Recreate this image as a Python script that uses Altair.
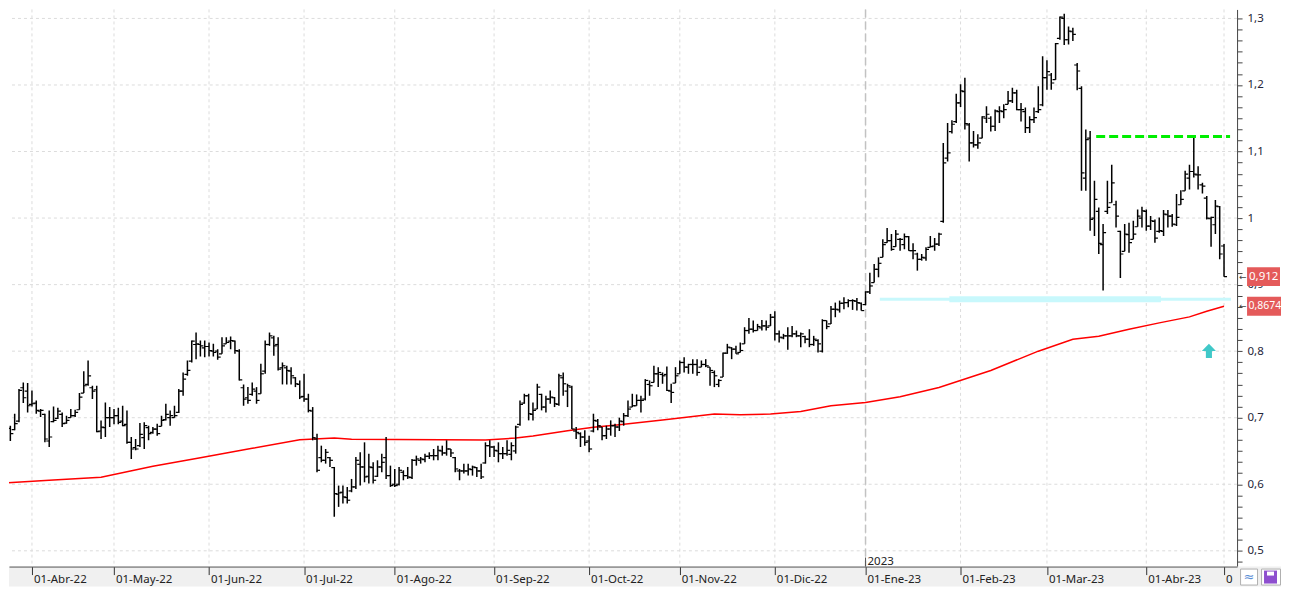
import altair as alt
import pandas as pd

# ---------------- data (daily OHLC, trading-day index 0 = 23-Mar-2022) ----------------
high = [0.719,0.691,0.688,0.706,0.743,0.753,0.752,0.741,0.726,0.713,0.706,0.711,0.717,0.715,0.708,0.703,0.713,0.712,0.737,0.770,
        0.786,0.748,0.748,0.696,0.723,0.716,0.713,0.715,0.718,0.711,0.671,0.668,0.692,0.693,0.688,0.686,0.691,0.703,0.721,0.711,
        0.718,0.743,0.768,0.786,0.816,0.828,0.816,0.816,0.813,0.811,0.803,0.821,0.821,0.822,0.816,0.803,0.750,0.746,0.753,0.746,
        0.781,0.816,0.828,0.823,0.821,0.783,0.778,0.776,0.761,0.756,0.766,0.736,0.716,0.676,0.658,0.653,0.641,0.626,0.598,0.598,
        0.596,0.608,0.641,0.648,0.663,0.646,0.633,0.636,0.646,0.671,0.628,0.623,0.626,0.621,0.626,0.638,0.643,0.641,0.646,0.648,
        0.653,0.658,0.658,0.666,0.653,0.641,0.623,0.631,0.631,0.628,0.626,0.631,0.663,0.666,0.658,0.663,0.656,0.666,0.663,0.688,
        0.726,0.736,0.736,0.723,0.751,0.736,0.733,0.741,0.731,0.766,0.768,0.751,0.748,0.686,0.678,0.681,0.673,0.706,0.698,0.686,
        0.688,0.696,0.691,0.700,0.707,0.726,0.736,0.735,0.733,0.758,0.756,0.778,0.776,0.768,0.777,0.751,0.776,0.786,0.791,0.781,
        0.788,0.788,0.786,0.788,0.776,0.771,0.758,0.798,0.811,0.806,0.808,0.813,0.836,0.850,0.846,0.841,0.847,0.846,0.856,0.860,
        0.831,0.826,0.836,0.838,0.831,0.828,0.823,0.833,0.823,0.818,0.848,0.846,0.868,0.873,0.876,0.881,0.878,0.878,0.880,0.873,
        0.890,0.918,0.931,0.941,0.968,0.985,0.976,0.982,0.970,0.977,0.973,0.962,0.948,0.946,0.956,0.973,0.970,0.978,1.113,1.143,
        1.147,1.187,1.201,1.211,1.143,1.131,1.126,1.153,1.168,1.153,1.163,1.168,1.171,1.191,1.196,1.193,1.173,1.166,1.153,1.166,
        1.198,1.243,1.237,1.218,1.263,1.303,1.307,1.288,1.286,1.233,1.198,1.133,1.131,1.056,1.016,0.991,1.056,1.080,1.026,0.981,
        0.991,0.993,0.996,1.013,1.017,1.013,1.003,0.998,1.001,1.012,1.012,1.006,1.036,1.042,1.071,1.080,1.121,1.078,1.053,1.033,
        1.002,1.027,1.018,0.961]
low = [0.682,0.671,0.665,0.681,0.693,0.722,0.708,0.717,0.706,0.701,0.663,0.656,0.693,0.698,0.686,0.691,0.700,0.701,0.712,0.737,
       0.748,0.728,0.678,0.668,0.671,0.686,0.690,0.690,0.687,0.661,0.638,0.651,0.656,0.653,0.666,0.676,0.673,0.687,0.696,0.688,
       0.700,0.707,0.733,0.763,0.783,0.788,0.792,0.791,0.792,0.792,0.787,0.796,0.811,0.803,0.796,0.756,0.718,0.721,0.733,0.721,
       0.736,0.766,0.808,0.793,0.771,0.750,0.750,0.750,0.746,0.728,0.724,0.708,0.666,0.618,0.633,0.631,0.626,0.551,0.566,0.571,
       0.571,0.588,0.593,0.598,0.603,0.601,0.601,0.611,0.618,0.608,0.596,0.596,0.598,0.606,0.608,0.608,0.628,0.631,0.633,0.638,
       0.636,0.636,0.643,0.643,0.641,0.618,0.606,0.616,0.613,0.613,0.611,0.608,0.631,0.641,0.641,0.633,0.638,0.643,0.636,0.646,
       0.688,0.721,0.696,0.696,0.713,0.711,0.708,0.721,0.716,0.718,0.733,0.716,0.683,0.668,0.656,0.658,0.648,0.678,0.681,0.666,
       0.668,0.673,0.671,0.680,0.688,0.701,0.716,0.718,0.708,0.726,0.733,0.753,0.746,0.751,0.740,0.722,0.752,0.766,0.768,0.766,
       0.766,0.763,0.776,0.776,0.748,0.746,0.746,0.761,0.796,0.788,0.796,0.798,0.811,0.826,0.828,0.831,0.831,0.831,0.838,0.816,
       0.813,0.818,0.802,0.821,0.821,0.806,0.812,0.806,0.808,0.798,0.798,0.833,0.841,0.851,0.858,0.863,0.866,0.862,0.861,0.861,
       0.869,0.886,0.903,0.911,0.941,0.963,0.951,0.957,0.951,0.953,0.951,0.938,0.921,0.936,0.936,0.956,0.951,0.958,0.993,1.085,
       1.127,1.143,1.167,1.133,1.085,1.106,1.104,1.120,1.143,1.130,1.131,1.143,1.150,1.171,1.173,1.162,1.145,1.128,1.128,1.143,
       1.158,1.168,1.193,1.193,1.208,1.268,1.260,1.261,1.266,1.192,1.041,1.041,0.981,0.973,0.946,0.891,1.006,1.023,0.986,0.910,
       0.950,0.948,0.968,0.987,0.986,0.981,0.982,0.963,0.978,0.973,0.986,0.987,0.988,1.020,1.041,1.043,1.061,1.043,1.037,0.998,
       0.957,0.976,0.938,0.912]
open_ = [0.715,0.684,0.684,0.682,0.695,0.745,0.740,0.720,0.722,0.710,0.705,0.665,0.694,0.699,0.705,0.692,0.700,0.703,0.712,0.737,
         0.750,0.745,0.742,0.680,0.685,0.700,0.700,0.703,0.695,0.690,0.663,0.655,0.658,0.670,0.685,0.678,0.683,0.687,0.697,0.700,
         0.700,0.708,0.740,0.765,0.785,0.810,0.810,0.805,0.807,0.800,0.800,0.796,0.811,0.815,0.815,0.800,0.745,0.730,0.735,0.740,
         0.736,0.770,0.810,0.820,0.810,0.775,0.775,0.770,0.760,0.750,0.732,0.728,0.710,0.668,0.640,0.636,0.640,0.625,0.585,0.588,
         0.580,0.590,0.596,0.630,0.626,0.612,0.625,0.612,0.626,0.640,0.613,0.600,0.600,0.618,0.613,0.610,0.636,0.636,0.637,0.642,
         0.643,0.643,0.650,0.647,0.653,0.640,0.620,0.620,0.620,0.622,0.625,0.620,0.632,0.658,0.656,0.650,0.646,0.646,0.645,0.650,
         0.690,0.722,0.733,0.705,0.713,0.735,0.716,0.728,0.730,0.720,0.760,0.740,0.746,0.680,0.676,0.671,0.665,0.680,0.695,0.686,
         0.673,0.683,0.688,0.686,0.694,0.703,0.716,0.718,0.726,0.728,0.750,0.753,0.766,0.765,0.765,0.740,0.752,0.766,0.783,0.776,
         0.780,0.780,0.776,0.780,0.776,0.768,0.750,0.761,0.797,0.805,0.803,0.798,0.811,0.831,0.833,0.831,0.835,0.838,0.838,0.851,
         0.826,0.820,0.823,0.823,0.826,0.823,0.822,0.818,0.810,0.816,0.800,0.846,0.841,0.863,0.862,0.872,0.873,0.876,0.875,0.872,
         0.870,0.889,0.903,0.923,0.941,0.963,0.966,0.957,0.968,0.960,0.972,0.951,0.946,0.938,0.940,0.956,0.958,0.961,0.995,1.090,
         1.130,1.145,1.173,1.190,1.140,1.113,1.110,1.120,1.150,1.150,1.138,1.160,1.160,1.171,1.176,1.188,1.163,1.160,1.136,1.148,
         1.160,1.170,1.211,1.215,1.208,1.270,1.300,1.268,1.280,1.230,1.195,1.060,1.120,1.000,1.010,0.960,1.010,1.023,1.020,0.980,
         0.950,0.975,0.968,0.987,1.000,1.010,0.988,0.995,0.980,0.980,1.005,1.003,0.990,1.020,1.041,1.060,1.070,1.065,1.050,1.030,
         0.999,0.990,1.017,0.958]
close = [0.683,0.683,0.676,0.691,0.741,0.730,0.718,0.721,0.711,0.711,0.668,0.671,0.696,0.710,0.691,0.696,0.703,0.708,0.731,0.748,
         0.763,0.740,0.679,0.686,0.700,0.700,0.703,0.693,0.688,0.663,0.653,0.653,0.675,0.688,0.676,0.683,0.676,0.696,0.705,0.703,
         0.703,0.740,0.758,0.771,0.815,0.811,0.808,0.807,0.801,0.798,0.791,0.808,0.813,0.816,0.801,0.757,0.728,0.726,0.743,0.726,
         0.766,0.810,0.823,0.808,0.773,0.778,0.771,0.763,0.751,0.731,0.728,0.711,0.670,0.621,0.636,0.648,0.636,0.586,0.587,0.581,
         0.576,0.596,0.636,0.626,0.611,0.626,0.606,0.626,0.633,0.613,0.598,0.598,0.621,0.613,0.611,0.636,0.638,0.638,0.642,0.643,
         0.643,0.651,0.647,0.653,0.647,0.623,0.620,0.620,0.623,0.626,0.620,0.611,0.658,0.656,0.651,0.646,0.646,0.651,0.658,0.686,
         0.720,0.733,0.706,0.711,0.746,0.716,0.728,0.731,0.721,0.763,0.751,0.748,0.683,0.678,0.671,0.663,0.653,0.696,0.688,0.673,
         0.683,0.688,0.686,0.695,0.703,0.713,0.718,0.726,0.726,0.756,0.748,0.766,0.768,0.763,0.741,0.738,0.763,0.783,0.776,0.780,
         0.780,0.768,0.780,0.778,0.771,0.763,0.756,0.797,0.806,0.803,0.796,0.801,0.831,0.833,0.831,0.837,0.838,0.836,0.851,0.826,
         0.821,0.823,0.823,0.826,0.823,0.826,0.818,0.810,0.818,0.811,0.846,0.837,0.863,0.863,0.872,0.873,0.876,0.876,0.873,0.861,
         0.889,0.898,0.923,0.932,0.960,0.966,0.953,0.976,0.968,0.972,0.951,0.951,0.938,0.941,0.953,0.957,0.961,0.976,1.083,1.098,
         1.141,1.173,1.191,1.142,1.113,1.110,1.113,1.152,1.156,1.138,1.161,1.161,1.163,1.176,1.188,1.163,1.163,1.136,1.148,1.151,
         1.163,1.211,1.220,1.203,1.262,1.302,1.268,1.281,1.276,1.221,1.068,1.118,0.998,1.028,0.962,0.978,1.016,1.053,1.003,0.946,
         0.976,0.963,0.976,1.003,1.011,0.988,0.996,0.970,0.981,1.006,1.003,0.991,1.001,1.028,1.066,1.070,1.066,1.065,1.048,1.000,
         1.001,1.018,0.946,0.912]

# 200-session moving average, read at selected sessions
ma_idx = [0, 11, 23, 35, 46, 58, 69, 77, 81, 112, 119, 123, 131, 137, 143, 153, 165, 171, 178, 185,
          192, 200, 208, 217, 229, 240, 248, 254, 261, 268, 275, 279, 283]
ma_val = [0.6015, 0.606, 0.6105, 0.627, 0.640, 0.654, 0.667, 0.6695, 0.6675, 0.6665, 0.6695, 0.6725, 0.6805,
          0.6855, 0.6895, 0.6965, 0.7055, 0.7045, 0.7055, 0.7095, 0.718, 0.723, 0.7315, 0.7455, 0.771, 0.800,
          0.818, 0.8225, 0.833, 0.8425, 0.8515, 0.860, 0.8674]

month_idx = [7, 26, 48, 70, 91, 114, 136, 157, 179, 200, 222, 242, 265, 283]
month_labels = ['01-Abr-22', '01-May-22', '01-Jun-22', '01-Jul-22', '01-Ago-22', '01-Sep-22', '01-Oct-22',
                '01-Nov-22', '01-Dic-22', '01-Ene-23', '01-Feb-23', '01-Mar-23', '01-Abr-23', '01-May-23']
year_idx = [200]
year_label = ['2023']

grid_vals = [0.5, 0.6, 0.7, 0.8, 0.9, 1.0, 1.1, 1.2, 1.3]
ytick_vals = [round(0.5 + k / 60, 6) for k in range(-1, 49)]

# drawn annotations: resistance (green), support zone (cyan), buy arrow
res_level = [1.1225]
res_from_to = [253.4, 284.4]
sup_level = [0.878]
sup_thin = [203.3, 284.6]
sup_thick = [219.4, 268.4]
arrow_pos = [(279.5, 0.8004)]

# ---------------- chart ----------------
FONT = 'Noto Sans'
W, H = 1230, 558
BAND = '#f0f0f0'
xs = alt.Scale(domain=[1.6875, 286.02], nice=False, zero=False)
ys = alt.Scale(domain=[0.4763, 1.3135], nice=False, zero=False)

xaxis = alt.Axis(values=month_idx, labels=False, tickSize=8, tickColor='#333333', domainColor='#555555',
                 grid=False, zindex=1, title=None)
yexpr = ("abs(datum.value*10 - round(datum.value*10)) < 0.001 ? "
         "replace(format(datum.value, '.1~f'), '.', ',') : ''")
yaxis = alt.Axis(orient='right', values=ytick_vals, labelExpr=yexpr, tickSize=5, tickColor='#444444',
                 domainColor='#444444', labelPadding=5, grid=False, labelFont=FONT, labelFontSize=11.5,
                 labelColor='#26263a', labelOverlap=False, labelFlush=False, title=None)

df = pd.DataFrame({'i': list(range(len(high))), 'o': open_, 'h': high, 'l': low, 'c': close})
ma_df = pd.DataFrame({'i': ma_idx, 'v': ma_val})
grid_df = pd.DataFrame({'v': grid_vals})
mon_df = pd.DataFrame({'i': month_idx, 't': month_labels})


def X(f):
    return alt.X(f, type='quantitative', scale=xs, axis=xaxis)


def Y(f):
    return alt.Y(f, type='quantitative', scale=ys, axis=yaxis)


one = pd.DataFrame({'k': [0]})

band = alt.Chart(one).mark_rect(color=BAND).encode(
    x=alt.value(0), x2=alt.value(1274), y=alt.value(H), y2=alt.value(578))

hgrid = alt.Chart(grid_df).mark_rule(color='#dcdcdc', strokeDash=[3, 3], strokeWidth=1).encode(y=Y('v'))
vgrid = alt.Chart(mon_df).mark_rule(color='#dcdcdc', strokeDash=[3, 3], strokeWidth=1).encode(
    x=X('i'), y=alt.value(0), y2=alt.value(H))

jan = alt.Chart(pd.DataFrame({'i': year_idx})).mark_rule(
    color='#c2c2c2', strokeDash=[8, 4], strokeWidth=1.5).encode(x=X('i'), y=alt.value(0), y2=alt.value(H))

sup_df1 = pd.DataFrame({'a': [sup_thin[0]], 'b': [sup_thin[1]], 'v': sup_level})
sup_df2 = pd.DataFrame({'a': [sup_thick[0]], 'b': [sup_thick[1]], 'v': sup_level})
sup1 = alt.Chart(sup_df1).mark_rule(color='#c8f8fc', strokeWidth=3).encode(x=X('a'), x2='b', y=Y('v'))
sup2 = alt.Chart(sup_df2).mark_rule(color='#c8f8fc', strokeWidth=6).encode(x=X('a'), x2='b', y=Y('v'))

ma = alt.Chart(ma_df).mark_line(color='#ff0000', strokeWidth=1.5, clip=True).encode(x=X('i'), y=Y('v'))

bars = alt.Chart(df).mark_rule(color='black', strokeWidth=1.5, clip=True).encode(x=X('i'), y=Y('l'), y2='h')
oticks = alt.Chart(df).mark_tick(orient='horizontal', color='black', size=3, thickness=1.2,
                                 xOffset=-1.5, opacity=1, clip=True).encode(x=X('i'), y=Y('o'))
cticks = alt.Chart(df).mark_tick(orient='horizontal', color='black', size=3, thickness=1.2,
                                 xOffset=1.5, opacity=1, clip=True).encode(x=X('i'), y=Y('c'))

res_df = pd.DataFrame({'a': [res_from_to[0]], 'b': [res_from_to[1]], 'v': res_level})
res = alt.Chart(res_df).mark_rule(color='#00ee00', strokeWidth=3, strokeDash=[9, 4]).encode(
    x=X('a'), x2='b', y=Y('v'))

ARROW = "M0,-1L1,0L0.43,0L0.43,1L-0.43,1L-0.43,0L-1,0Z"
arr_df = pd.DataFrame({'i': [p[0] for p in arrow_pos], 'v': [p[1] for p in arrow_pos]})
arrow = alt.Chart(arr_df).mark_point(shape=ARROW, filled=True, color='#40c8c8', size=200,
                                      opacity=1, strokeWidth=0).encode(x=X('i'), y=Y('v'))

yr_df = pd.DataFrame({'i': year_idx, 't': year_label})
yr_tick = alt.Chart(yr_df).mark_rule(color='#555555', strokeWidth=1).encode(
    x=X('i'), y=alt.value(549), y2=alt.value(H))
yr_text = alt.Chart(yr_df).mark_text(align='left', baseline='alphabetic', dx=2, font=FONT,
                                     fontSize=11.5, color='#222222').encode(
    x=X('i'), y=alt.value(556), text='t:N')

# month labels (the last one is cut off by the corner widgets, as in the original)
mon_main = alt.Chart(mon_df.iloc[:-1]).mark_text(
    align='left', baseline='alphabetic', dx=2, font=FONT, fontSize=11.5, color='#222222').encode(
    x=X('i'), y=alt.value(H + 16), text='t:N')
mon_last = alt.Chart(mon_df.iloc[-1:]).mark_text(
    align='left', baseline='alphabetic', dx=2, font=FONT, fontSize=11.5, color='#222222',
    limit=11, ellipsis=' ').encode(x=X('i'), y=alt.value(H + 16), text='t:N')

last_close = close[-1]
last_ma = ma_val[-1]
tag1_df = pd.DataFrame({'v': [last_close], 't': [f"{last_close:.3f}".replace('.', ',')]})
tag2_df = pd.DataFrame({'v': [last_ma], 't': [f"{last_ma:.4f}".replace('.', ',')]})
TAG = '#e45a5a'
tag1 = alt.Chart(tag1_df).mark_tick(orient='horizontal', size=33, thickness=19, color=TAG, opacity=1).encode(
    x=alt.value(1256.5), y=Y('v'))
tag2 = alt.Chart(tag2_df).mark_tick(orient='horizontal', size=34, thickness=19, color=TAG, opacity=1).encode(
    x=alt.value(1257), y=Y('v'))
tag1t = alt.Chart(tag1_df).mark_text(align='left', baseline='middle', font=FONT, fontSize=11.5,
                                     color='white').encode(x=alt.value(1242), y=Y('v'), text='t:N')
tag2t = alt.Chart(tag2_df).mark_text(align='left', baseline='middle', font=FONT, fontSize=10.5,
                                     color='white').encode(x=alt.value(1241.5), y=Y('v'), text='t:N')
tags_df = pd.DataFrame({'v': [last_close, last_ma]})
tag_arr = alt.Chart(tags_df).mark_text(text='←', align='left', baseline='middle', font='DejaVu Sans',
                                       fontSize=9, color='#444444').encode(x=alt.value(1232), y=Y('v'))

# bottom-right corner widgets
box1 = alt.Chart(one).mark_rect(fill='white', stroke='#b0b0b0', strokeWidth=1).encode(
    x=alt.value(1233.5), x2=alt.value(1250.5), y=alt.value(H + 2.5), y2=alt.value(H + 18.5))
box2 = alt.Chart(one).mark_rect(fill='white', stroke='#b0b0b0', strokeWidth=1).encode(
    x=alt.value(1254.5), x2=alt.value(1273.5), y=alt.value(H + 2.5), y2=alt.value(H + 18.5))
floppy = alt.Chart(one).mark_rect(color='#8e4fcf').encode(
    x=alt.value(1257), x2=alt.value(1270), y=alt.value(H + 4), y2=alt.value(H + 17))
floppy2 = alt.Chart(one).mark_rect(color='white').encode(
    x=alt.value(1260), x2=alt.value(1267), y=alt.value(H + 5), y2=alt.value(H + 9))
wave = alt.Chart(one).mark_text(text='≈', font='DejaVu Sans', fontSize=13, baseline='middle',
                                color='#5b8ed6').encode(x=alt.value(1242), y=alt.value(H + 10))

chart = alt.layer(
    band, hgrid, vgrid, jan, sup1, sup2, ma, bars, oticks, cticks, res, arrow, yr_tick, yr_text,
    mon_main, mon_last, tag1, tag2, tag1t, tag2t, tag_arr, box1, box2, floppy, floppy2, wave
).properties(width=W, height=H, padding=0, background='white').configure_view(
    fill='white', strokeWidth=0)

chart.save("out.html", embed_options={"renderer": "svg", "actions": False})
